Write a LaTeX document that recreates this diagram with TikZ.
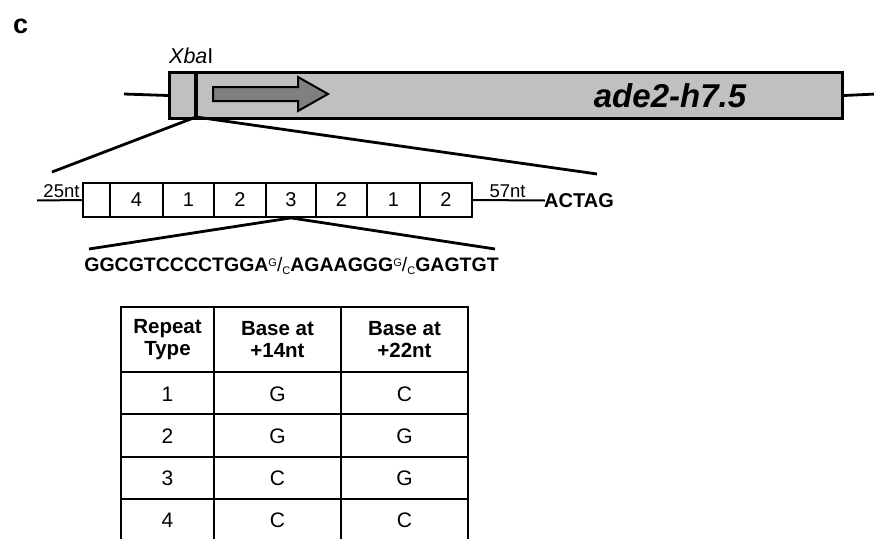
\documentclass[tikz,border=0pt]{standalone}
\usepackage{fontspec}
\setmainfont{Liberation Sans}
\definecolor{boxgray}{HTML}{C0C0C0}
\definecolor{arrowgray}{HTML}{808080}
\newcommand{\smallnt}[1]{{\mdseries\fontsize{11}{11}\selectfont #1}}
\begin{document}
\begin{tikzpicture}[x=1pt,y=-1pt,
  cell/.style={draw, line width=1.8pt, minimum height=34pt, inner sep=0pt, font=\fontsize{20}{20}\selectfont},
  lbl/.style={inner sep=0pt, font=\fontsize{18.5}{18.5}\selectfont},
  hdr/.style={inner sep=0pt, align=center, font=\bfseries\fontsize{20.5}{22.5}\selectfont},
  tcell/.style={inner sep=0pt, font=\fontsize{21}{21}\selectfont},
  thick line/.style={line width=2.8pt},
  tab line/.style={line width=1.8pt}
]
\useasboundingbox (0,0) rectangle (874,538);

% panel letter
\node[inner sep=0pt, anchor=base west, font=\bfseries\fontsize{27}{27}\selectfont] (panel) at (13,33) {c};

% XbaI label
\node[inner sep=0pt, anchor=base west, font=\fontsize{21.5}{21.5}\selectfont] (xba) at (169,63) {\textit{Xba}I};

% gene box
\node[draw, fill=boxgray, line width=3pt, minimum width=673pt, minimum height=46pt, inner sep=0pt, anchor=north west] (gene) at (168,71) {};
\coordinate (lend) at (124,94);
\coordinate (rend) at (876,94);
\draw[thick line] (lend) -- (gene.west);
\draw[thick line] (gene.east) -- (rend);

% XbaI site
\coordinate (xbtop) at (196,71);
\coordinate (xb) at (196,117);
\draw[line width=3.5pt] (xbtop) -- (xb);

% arrow
\draw[fill=arrowgray, line width=2pt, line join=miter] (213,87) -- (298,87) -- (298,77) -- (328,94) -- (298,111) -- (298,101) -- (213,101) -- cycle;

\node[inner sep=0pt, anchor=base, font=\bfseries\itshape\fontsize{33}{33}\selectfont] (genename) at (670,107) {ade2-h7.5};

% expansion lines
\coordinate (exl) at (52,172);
\coordinate (exr) at (597,174);
\draw[thick line] (xb) -- (exl);
\draw[thick line] (xb) -- (exr);

% repeat cells
\node[cell, minimum width=27pt] (r0) at (96.5,200) {};
\node[cell, minimum width=53pt] (r1) at (136.5,200) {4};
\node[cell, minimum width=51pt] (r2) at (188.5,200) {1};
\node[cell, minimum width=52pt] (r3) at (240,200) {2};
\node[cell, minimum width=50pt] (r4) at (291,200) {3};
\node[cell, minimum width=51pt] (r5) at (341.5,200) {2};
\node[cell, minimum width=53pt] (r6) at (393.5,200) {1};
\node[cell, minimum width=52pt] (r7) at (446,200) {2};

\coordinate (l25) at (37,200.5);
\draw[line width=2pt] (l25) -- (r0.west);
\node[lbl, anchor=base] (n25) at (61.5,197) {25nt};

\coordinate (l57) at (545,200.5);
\draw[line width=2pt] (r7.east) -- (l57);
\node[lbl, anchor=base] (n57) at (507.5,197) {57nt};
\node[inner sep=0pt, anchor=base west, font=\bfseries\fontsize{20}{20}\selectfont] (actag) at (544,207) {ACTAG};

% lower expansion
\coordinate (sl) at (89,249);
\coordinate (sr) at (495,249);
\draw[thick line] (r4.south) -- (sl);
\draw[thick line] (r4.south) -- (sr);

\node[inner sep=0pt, anchor=base, font=\bfseries\fontsize{19.5}{19.5}\selectfont] (seq) at (291.5,271)
  {GGCGTCCCCTGGA\raisebox{5pt}{\smallnt{G}}{\mdseries/}\raisebox{-3pt}{\smallnt{C}}AGAAGGG\raisebox{5pt}{\smallnt{G}}{\mdseries/}\raisebox{-3pt}{\smallnt{C}}GAGTGT};

% table
\foreach \yy in {307,372,414,457,499} \draw[tab line] (120.1,\yy) -- (468.9,\yy);
\foreach \xx in {121,214,341,468} \draw[tab line] (\xx,306.1) -- (\xx,540);

\node[hdr] (h1) at (167.5,339.5) {Repeat\\Type};
\node[hdr] (h2) at (277.5,339.5) {Base at\\+14nt};
\node[hdr] (h3) at (404.5,339.5) {Base at\\+22nt};

\node[tcell] (a1) at (167.5,394) {1};
\node[tcell] (b1) at (277.5,394) {G};
\node[tcell] (c1) at (404.5,394) {C};
\node[tcell] (a2) at (167.5,436) {2};
\node[tcell] (b2) at (277.5,436) {G};
\node[tcell] (c2) at (404.5,436) {G};
\node[tcell] (a3) at (167.5,478) {3};
\node[tcell] (b3) at (277.5,478) {C};
\node[tcell] (c3) at (404.5,478) {G};
\node[tcell] (a4) at (167.5,520) {4};
\node[tcell] (b4) at (277.5,520) {C};
\node[tcell] (c4) at (404.5,520) {C};
\end{tikzpicture}
\end{document}
